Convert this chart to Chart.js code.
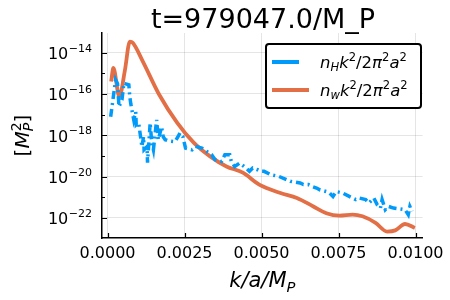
<!DOCTYPE html>
<html><head><meta charset="utf-8">
<script src="https://cdn.jsdelivr.net/npm/chart.js@4/dist/chart.umd.min.js"></script>
<style>html,body{margin:0;padding:0;background:#fff}#c{display:block}</style>
</head><body>
<div style="width:450px;height:300px"><canvas id="c" width="450" height="300"></canvas></div>
<script>
// ---- data ----
const kH = [0.000102,0.000262,0.000325,0.000373,0.000469,0.000533,0.000597,0.000692,0.000724,0.000756,0.000852,0.000916,0.000932,0.001011,0.001117,0.001171,0.001187,0.001283,0.001299,0.001385,0.001436,0.00149,0.001595,0.00165,0.001755,0.001809,0.001873,0.001969,0.002192,0.002288,0.002352,0.002447,0.002533,0.002744,0.002853,0.003063,0.003223,0.003382,0.003491,0.003701,0.00381,0.003969,0.00402,0.004129,0.004288,0.004499,0.004608,0.004713,0.004872,0.004978,0.005086,0.005297,0.005565,0.005935,0.006254,0.006362,0.006522,0.006627,0.006787,0.006892,0.007106,0.007211,0.00732,0.007425,0.007639,0.007849,0.008063,0.008168,0.008382,0.008487,0.008647,0.008756,0.008861,0.008915,0.00902,0.009126,0.009285,0.009659,0.009764,0.009818,0.009892];
const nH = [7.8e-18,4.8e-16,3.1e-16,2.4e-17,5.2e-17,3.4e-16,3.1e-16,2.75e-16,7.2e-17,3.3e-17,5.6e-18,1.36e-17,3.2e-18,4.0e-18,2.8e-19,8.5e-19,2.0e-19,2.8e-19,4.7e-20,4.0e-18,4.3e-19,2.0e-19,5.6e-18,6.1e-19,2.6e-18,8.5e-19,6.1e-19,5.4e-19,4.9e-19,8.5e-19,1.3e-18,8.5e-19,2.4e-19,2.0e-19,2.9e-19,2.4e-19,1.65e-19,1.14e-19,6.5e-20,5.4e-20,1.14e-19,1.14e-19,5.4e-20,3.1e-20,4.5e-20,2.6e-20,1.8e-20,2.6e-20,2.15e-20,1.8e-20,1.8e-20,1.24e-20,1.02e-20,5.9e-21,4.9e-21,4.1e-21,4.1e-21,3.4e-21,2.8e-21,2.3e-21,1.9e-21,1.6e-21,1.1e-21,1.9e-21,1.6e-21,1.1e-21,7.7e-22,9.2e-22,7.7e-22,5.3e-22,9.2e-22,4.4e-22,3.0e-22,7.7e-22,2.5e-22,3.6e-22,3.0e-22,2.5e-22,1.44e-22,3.6e-22,2.1e-22];
const kW = [0.000118,0.000191,0.000383,0.000565,0.000724,0.00082,0.001149,0.00168,0.002265,0.002798,0.003331,0.003861,0.004394,0.004927,0.005616,0.006149,0.006682,0.007106,0.00753,0.007958,0.008277,0.008702,0.009075,0.00934,0.009659,0.009978];
const nW = [4.0e-16,1.8e-15,7.4e-17,1.4e-15,3.4e-14,3.0e-14,3.7e-15,9.1e-17,4.0e-18,4.4e-19,9.5e-20,3.1e-20,1.55e-20,4.1e-21,1.6e-21,9.3e-22,3.6e-22,1.7e-22,1.3e-22,1.45e-22,1.2e-22,5.8e-23,2.2e-23,2.5e-23,5.1e-23,3.3e-23];
const xTicks = [0, 0.0025, 0.005, 0.0075, 0.01];
const yMajorExp = [-22, -20, -18, -16, -14];
const yMinorExp = [-21, -19, -17, -15];
const titleText = "t=979047.0/M_P";

const BLUE = '#009AFA', ORANGE = '#E26F46';
const FONT = "'DejaVu Sans', 'Liberation Sans', sans-serif";

function fnt(size, it){ return (it ? 'italic ' : '') + size + 'px ' + FONT; }
function richWidth(ctx, parts, size){
  let w = 0;
  for (const p of parts){
    const sz = p.s ? size*0.7 : size;
    ctx.font = fnt(sz, p.i);
    let pw = ctx.measureText(p.t).width;
    if (p.s === 'both'){ ctx.font = fnt(sz, p.i2); pw = Math.max(pw, ctx.measureText(p.t2).width); }
    w += pw;
  }
  return w;
}
function richDraw(ctx, parts, x, y, size){
  ctx.textAlign = 'left'; ctx.textBaseline = 'alphabetic';
  for (const p of parts){
    const sz = p.s ? size*0.7 : size;
    ctx.font = fnt(sz, p.i);
    let w = ctx.measureText(p.t).width;
    if (p.s === 'sub') ctx.fillText(p.t, x, y + size*0.22);
    else if (p.s === 'sup') ctx.fillText(p.t, x, y - size*0.42);
    else if (p.s === 'both'){
      ctx.fillText(p.t, x, y + size*0.22);
      ctx.font = fnt(sz, p.i2);
      ctx.fillText(p.t2, x, y - size*0.42);
      w = Math.max(w, ctx.measureText(p.t2).width);
    } else ctx.fillText(p.t, x, y);
    x += w;
  }
}

const decor = {
  id: 'decor',
  afterDraw(chart){
    const ctx = chart.ctx, xs = chart.scales.x, ys = chart.scales.y, ca = chart.chartArea;
    ctx.save();
    ctx.fillStyle = '#000'; ctx.strokeStyle = '#000'; ctx.lineWidth = 1.2;
    ctx.beginPath();
    for (const v of xTicks){ const px = Math.round(xs.getPixelForValue(v))+0.5; ctx.moveTo(px, ca.bottom); ctx.lineTo(px, ca.bottom-5); }
    for (const e of yMajorExp){ const py = Math.round(ys.getPixelForValue(Math.pow(10,e)))+0.5; ctx.moveTo(ca.left, py); ctx.lineTo(ca.left+5, py); }
    for (const e of yMinorExp){ const py = Math.round(ys.getPixelForValue(Math.pow(10,e)))+0.5; ctx.moveTo(ca.left, py); ctx.lineTo(ca.left+3, py); }
    ctx.stroke();
    for (const e of yMajorExp){
      const py = ys.getPixelForValue(Math.pow(10,e));
      ctx.font = fnt(11, false);
      const es = '\u2212' + Math.abs(e);
      const ew = ctx.measureText(es).width;
      ctx.textAlign = 'left'; ctx.textBaseline = 'alphabetic';
      ctx.fillText(es, 92 - ew, py - 1);
      ctx.font = fnt(16, false);
      const bw = ctx.measureText('10').width;
      ctx.fillText('10', 92 - ew - bw - 0.5, py + 6.5);
    }
    ctx.font = fnt(27, false); ctx.textAlign = 'center';
    ctx.fillText(titleText, 263, 28);
    const xl = [{t:'k/a/M', i:true},{t:'P', i:true, s:'sub'}];
    const xw = richWidth(ctx, xl, 21);
    richDraw(ctx, xl, (ca.left+ca.right)/2 - xw/2, 287, 21);
    const yl = [{t:'[', i:false},{t:'M', i:true},{t:'P', i:true, s:'both', t2:'2', i2:false},{t:']', i:false}];
    const yw = richWidth(ctx, yl, 20);
    ctx.save(); ctx.translate(29, (ca.top+ca.bottom)/2); ctx.rotate(-Math.PI/2);
    richDraw(ctx, yl, -yw/2, 0, 20);
    ctx.restore();
    const lx = 266, ly = 44, lw = 155, lh = 64;
    ctx.fillStyle = '#fff'; ctx.strokeStyle = '#000'; ctx.lineWidth = 2;
    ctx.beginPath(); ctx.roundRect(lx, ly, lw, lh, 3); ctx.fill(); ctx.stroke();
    const ds = chart.data.datasets;
    const rows = [62, 90];
    const sampleLen = [27, 37];
    ds.forEach((d, i) => {
      ctx.strokeStyle = d.borderColor; ctx.lineWidth = 4; ctx.setLineDash([]);
      ctx.beginPath(); ctx.moveTo(272, rows[i]); ctx.lineTo(272 + sampleLen[i], rows[i]); ctx.stroke();
      ctx.fillStyle = '#000';
      const sub = i === 0 ? 'H' : 'w';
      const parts = [{t:'n', i:true},{t:sub, i:true, s:'sub'},{t:'k', i:true},{t:'2', s:'sup'},{t:'/2', i:false},{t:'\u03c0', i:true},{t:'2', s:'sup'},{t:'a', i:true},{t:'2', s:'sup'}];
      richDraw(ctx, parts, 320, rows[i] + 5.5, 16.5);
    });
    ctx.restore();
  }
};

new Chart(document.getElementById('c'), {
  type: 'line',
  data: {
    datasets: [
      { label: 'nH', data: kH.map((k, i) => ({x: k, y: nH[i]})), borderColor: BLUE, borderWidth: 3.5,
        borderDash: [8, 4, 2, 4], pointRadius: 0, tension: 0, fill: false },
      { label: 'nw', data: kW.map((k, i) => ({x: k, y: nW[i]})), borderColor: ORANGE, borderWidth: 3.8,
        pointRadius: 0, cubicInterpolationMode: 'monotone', fill: false }
    ]
  },
  options: {
    responsive: false, animation: false, devicePixelRatio: 1,
    layout: { padding: { left: 0, top: 33, right: 22, bottom: 0 } },
    plugins: { legend: { display: false }, title: { display: false }, tooltip: { enabled: false } },
    scales: {
      x: { type: 'linear', min: -0.000179, max: 0.01023,
        afterBuildTicks: s => { s.ticks = xTicks.map(v => ({value: v})); },
        afterFit: s => { s.height = 62; },
        grid: { color: 'rgba(0,0,0,0.1)', drawTicks: false, lineWidth: 1 },
        border: { display: true, color: '#000', width: 1.5 },
        ticks: { font: { family: FONT, size: 16 }, color: '#000', padding: 6, maxRotation: 0,
          callback: v => v.toFixed(4) } },
      y: { type: 'logarithmic', min: 1.07e-23, max: 8.9e-14,
        afterBuildTicks: s => { s.ticks = yMajorExp.map(e => ({value: Math.pow(10, e)})); },
        afterFit: s => { s.width = 102; },
        grid: { color: 'rgba(0,0,0,0.1)', drawTicks: false, lineWidth: 1 },
        border: { display: true, color: '#000', width: 1.5 },
        ticks: { display: false } }
    }
  },
  plugins: [decor]
});
</script>
</body></html>
